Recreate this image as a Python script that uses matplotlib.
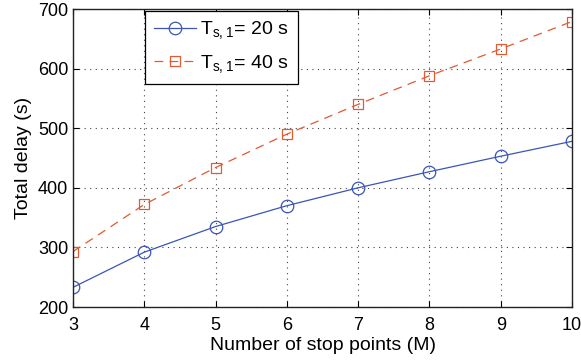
import matplotlib
matplotlib.use("Agg")
import matplotlib.pyplot as plt

plt.rcParams['font.family'] = ['Liberation Sans', 'DejaVu Sans']

# ----- DATA -----
stop_points = [3, 4, 5, 6, 7, 8, 9, 10]
delay_ts20 = [233, 292, 335, 370, 400, 427, 453, 478]
delay_ts40 = [293, 372, 434, 490, 540, 588, 633, 679]
labels = [r'$\mathregular{T_{s,1}}$= 20 s', r'$\mathregular{T_{s,1}}$= 40 s']

fig = plt.figure(figsize=(5.81, 3.62), dpi=100)
ax = fig.add_axes([73 / 581, 1 - 307 / 362, 499 / 581, 298 / 362])

ax.plot(stop_points, delay_ts20, color='#3a55b8', linewidth=0.9, linestyle='-',
        marker='o', markersize=9, markerfacecolor='none', markeredgewidth=0.9,
        label=labels[0])
ax.plot(stop_points, delay_ts40, color='#e05a32', linewidth=0.9, linestyle=(0, (7, 5)),
        marker='s', markersize=7.5, markerfacecolor='none', markeredgewidth=0.9,
        label=labels[1])

ax.set_xlim(3, 10)
ax.set_ylim(200, 700)
ax.set_xticks(stop_points)
ax.set_yticks(range(200, 701, 100))
ax.grid(True, linestyle=(0, (1, 4)), color='#444444', linewidth=0.8)
ax.tick_params(direction='in', labelsize=13, length=4, top=True, right=True)
ax.tick_params(axis='x', pad=7)
for s in ax.spines.values():
    s.set_linewidth(1.0)
    s.set_color('#222222')

ax.set_xlabel('Number of stop points (M)', fontsize=14, labelpad=2)
ax.set_ylabel('Total delay (s)', fontsize=14)

leg = ax.legend(loc='upper left', bbox_to_anchor=(0.144, 0.994), borderaxespad=0,
                fontsize=14, fancybox=False, framealpha=1, edgecolor='black',
                handlelength=2.2, borderpad=0.45, labelspacing=0.6, handletextpad=0.2)
leg.get_frame().set_linewidth(0.9)

fig.savefig('out.png', dpi=100)
